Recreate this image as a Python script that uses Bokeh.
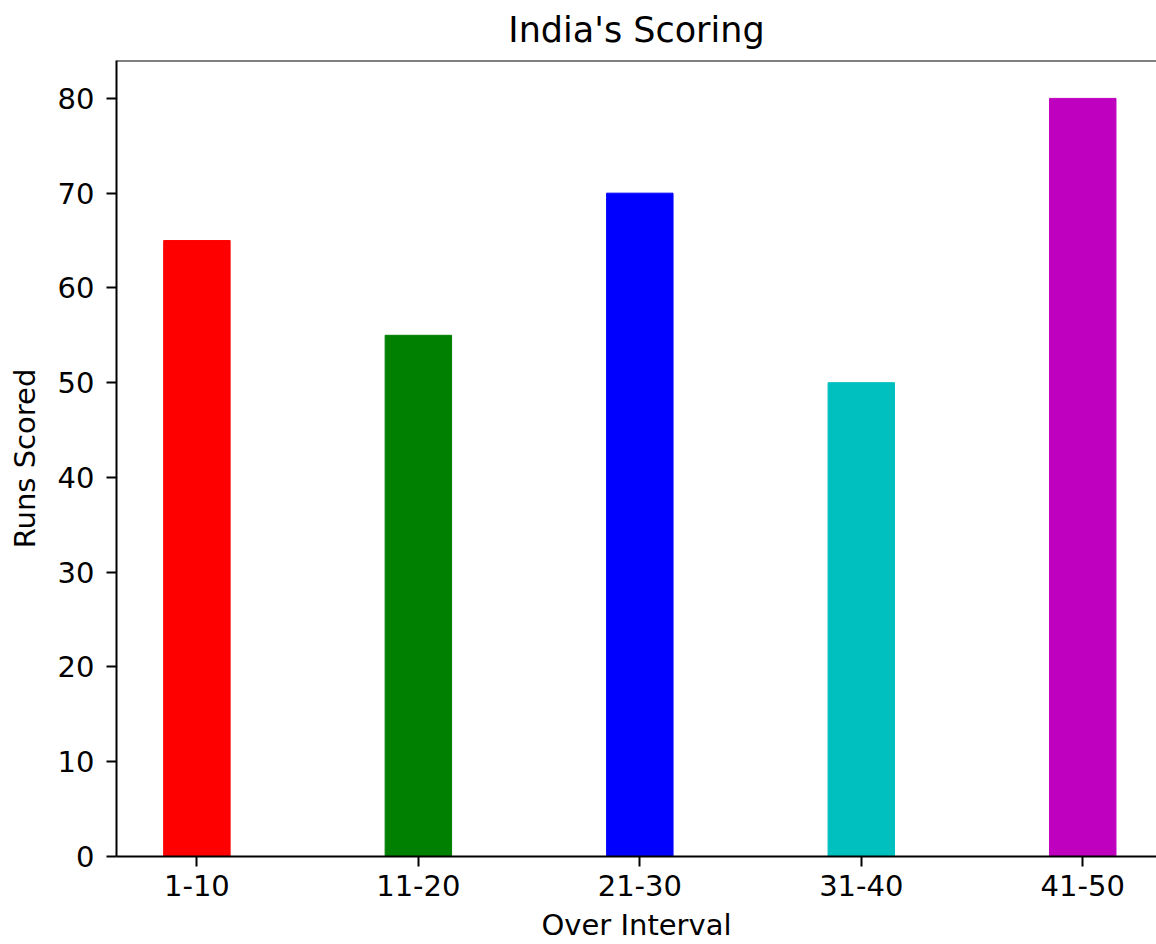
from bokeh.plotting import figure
from bokeh.models import Range1d, FixedTicker, ColumnDataSource, Span
from bokeh.embed import file_html
from bokeh.resources import INLINE

intervals = ["1-10", "11-20", "21-30", "31-40", "41-50"]
runs = [65, 55, 70, 50, 80]
colors = ["#ff0000", "#008000", "#0000ff", "#00bfbf", "#bf00bf"]
y_ticks = [0, 10, 20, 30, 40, 50, 60, 70, 80]

pos = list(range(len(intervals)))
src = ColumnDataSource(dict(x=pos, top=runs, color=colors))

FONT = "DejaVu Sans"

p = figure(width=1156, height=944, output_backend="svg", toolbar_location=None,
           x_range=Range1d(-0.363, 4.333), y_range=Range1d(0, 84),
           title="India's Scoring",
           min_border_left=116, min_border_right=0, min_border_top=60, min_border_bottom=88)

p.vbar(x="x", top="top", width=0.3, color="color", source=src)

p.title.align = "center"
p.title.vertical_align = "top"
p.title.text_font = FONT
p.title.text_font_size = "35px"
p.title.text_font_style = "normal"
p.title.text_color = "#000000"
p.title.standoff = 18

p.xgrid.visible = False
p.ygrid.visible = False
p.outline_line_color = None
p.background_fill_color = "white"
p.border_fill_color = "white"

p.add_layout(Span(location=84, dimension="width", line_color="black", line_width=2))

p.xaxis.ticker = FixedTicker(ticks=pos)
p.xaxis.major_label_overrides = {i: c for i, c in zip(pos, intervals)}
p.yaxis.ticker = FixedTicker(ticks=y_ticks)

p.xaxis.axis_label = "Over Interval"
p.yaxis.axis_label = "Runs Scored"

for ax in (p.xaxis, p.yaxis):
    ax.axis_line_width = 2
    ax.axis_line_color = "black"
    ax.major_tick_line_width = 2
    ax.major_tick_line_color = "black"
    ax.major_tick_out = 10
    ax.major_tick_in = 0
    ax.minor_tick_line_color = None
    ax.major_label_text_font = FONT
    ax.major_label_text_font_size = "29px"
    ax.major_label_text_color = "#000000"
    ax.axis_label_text_font = FONT
    ax.axis_label_text_font_size = "29px"
    ax.axis_label_text_font_style = "normal"
    ax.axis_label_text_color = "#000000"

p.xaxis.major_label_standoff = 8
p.xaxis.axis_label_standoff = 9
p.yaxis.major_label_standoff = 12
p.yaxis.axis_label_standoff = 13

open("out.html", "w").write(file_html(p, INLINE))
